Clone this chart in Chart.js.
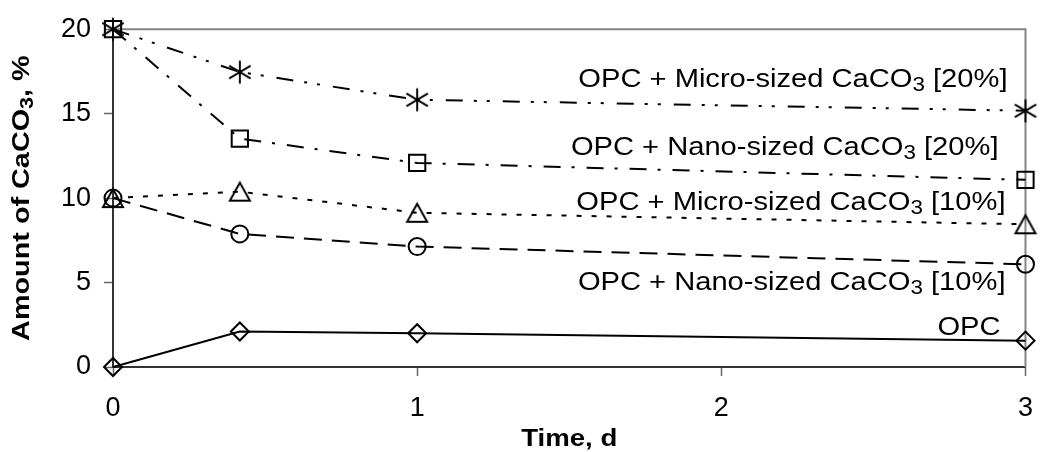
<!DOCTYPE html>
<html><head><meta charset="utf-8">
<script src="https://cdn.jsdelivr.net/npm/chart.js@4/dist/chart.umd.min.js"></script>
<style>html,body{margin:0;padding:0;background:#fff;}</style>
</head><body>
<canvas id="c" width="1049" height="452"></canvas>
<script>
// ---- data ----
const days = [0, 0.417, 1, 3];
const opc = [0, 2.1, 2.0, 1.56];
const nano10 = [10, 7.88, 7.13, 6.08];
const micro10 = [10, 10.38, 9.13, 8.45];
const nano20 = [20, 13.52, 12.08, 11.08];
const micro20 = [20, 17.46, 15.82, 15.17];
const xTickValues = [0, 1, 2, 3];
const yTickValues = [0, 5, 10, 15, 20];
const seriesLabels = [
  ['OPC + Micro-sized CaCO', '3', ' [20%]'],
  ['OPC + Nano-sized CaCO', '3', ' [20%]'],
  ['OPC + Micro-sized CaCO', '3', ' [10%]'],
  ['OPC + Nano-sized CaCO', '3', ' [10%]'],
  ['OPC', '', '']
];
const xTitle = 'Time, d';
const yTitle = ['Amount of CaCO', '3', ', %'];

// ---- styles / positions ----
const FONT = '"Liberation Sans", Arial, sans-serif';
const labelPlacement = [ // right offset from plot right (px), baseline in y units
  {dx: 18, y: 16.6},
  {dx: 27, y: 12.55},
  {dx: 20, y: 9.31},
  {dx: 20, y: 4.57},
  {dx: 25, y: 1.91}
];

function makeAsterisk() {
  const c = document.createElement('canvas'); c.width = 30; c.height = 30;
  const g = c.getContext('2d'); g.strokeStyle = '#000'; g.lineWidth = 1.9; g.translate(15, 15);
  const a = 31 * Math.PI / 180, L = 12.5;
  g.beginPath();
  g.moveTo(0, -11.5); g.lineTo(0, 11.5);
  g.moveTo(-L * Math.cos(a), -L * Math.sin(a)); g.lineTo(L * Math.cos(a), L * Math.sin(a));
  g.moveTo(-L * Math.cos(a), L * Math.sin(a)); g.lineTo(L * Math.cos(a), -L * Math.sin(a));
  g.stroke();
  return c;
}
function makeTriangle() {
  const c = document.createElement('canvas'); c.width = 26; c.height = 24;
  const g = c.getContext('2d'); g.strokeStyle = '#000'; g.lineWidth = 2;
  g.beginPath(); g.moveTo(13, 3); g.lineTo(3, 21); g.lineTo(23, 21); g.closePath(); g.stroke();
  return c;
}

function pts(arr) { return days.map((d, i) => ({x: d, y: arr[i]})); }
const common = {showLine: true, borderColor: '#000', borderWidth: 2, backgroundColor: 'rgba(0,0,0,0)',
  pointBorderColor: '#000', pointBackgroundColor: 'rgba(0,0,0,0)', pointBorderWidth: 2, clip: false, tension: 0};

const datasets = [
  Object.assign({}, common, {label: 'OPC + Micro-sized CaCO3 [20%]', data: pts(micro20), borderDash: [17, 11, 3, 10, 3, 13], pointStyle: makeAsterisk(), pointRadius: 12}),
  Object.assign({}, common, {label: 'OPC + Nano-sized CaCO3 [20%]', data: pts(nano20), borderDash: [17, 11, 3, 12], pointStyle: 'rect', pointRadius: 11.5}),
  Object.assign({}, common, {label: 'OPC + Micro-sized CaCO3 [10%]', data: pts(micro10), borderDash: [5, 10], pointStyle: makeTriangle(), pointRadius: 11}),
  Object.assign({}, common, {label: 'OPC + Nano-sized CaCO3 [10%]', data: pts(nano10), borderDash: [18, 10], pointStyle: 'circle', pointRadius: 8.5}),
  Object.assign({}, common, {label: 'OPC', data: pts(opc), borderDash: [], pointStyle: 'rectRot', pointRadius: 9})
];

function measureRich(ctx, parts, size, bold) {
  const w = bold ? 'bold ' : '';
  const mainF = w + size + 'px ' + FONT, subF = w + Math.round(size * 0.75) + 'px ' + FONT;
  ctx.font = mainF; const w1 = ctx.measureText(parts[0]).width, w3 = ctx.measureText(parts[2]).width;
  ctx.font = subF; const w2 = parts[1] ? ctx.measureText(parts[1]).width : 0;
  return {w1, w2, w3, mainF, subF, total: w1 + w2 + w3};
}
function renderRich(ctx, parts, size, bold, startX) {
  const m = measureRich(ctx, parts, size, bold);
  ctx.textBaseline = 'alphabetic'; ctx.textAlign = 'left';
  let x = startX;
  ctx.font = m.mainF; ctx.fillText(parts[0], x, 0); x += m.w1;
  if (parts[1]) { ctx.font = m.subF; ctx.fillText(parts[1], x, size * 0.16); x += m.w2; }
  ctx.font = m.mainF; ctx.fillText(parts[2], x, 0);
  return m;
}

const annotations = {
  id: 'annotations',
  beforeDatasetsDraw(chart) {
    const {ctx, chartArea: a} = chart;
    ctx.save(); ctx.strokeStyle = '#858585'; ctx.lineWidth = 2;
    ctx.beginPath(); ctx.moveTo(a.left, a.top); ctx.lineTo(a.right, a.top); ctx.lineTo(a.right, a.bottom); ctx.stroke();
    ctx.restore();
  },
  afterDraw(chart) {
    const {ctx, chartArea: a, scales} = chart;
    ctx.save(); ctx.fillStyle = '#000';
    const sx = 1.12;
    seriesLabels.forEach((lab, i) => {
      const p = labelPlacement[i];
      const m = measureRich(ctx, lab, 26, false);
      ctx.save();
      ctx.translate(a.right - p.dx, scales.y.getPixelForValue(p.y));
      ctx.scale(sx, 1);
      renderRich(ctx, lab, 26, false, -m.total);
      ctx.restore();
    });
    // y title
    const my = measureRich(ctx, yTitle, 24, true);
    ctx.save();
    ctx.translate(29, (a.top + a.bottom) / 2);
    ctx.rotate(-Math.PI / 2);
    ctx.scale(1.2, 1);
    renderRich(ctx, yTitle, 24, true, -my.total / 2);
    ctx.restore();
    // x title
    ctx.save();
    ctx.font = 'bold 24px ' + FONT;
    const wx = ctx.measureText(xTitle).width;
    ctx.translate((a.left + a.right) / 2, 446);
    ctx.scale(1.15, 1);
    ctx.textBaseline = 'alphabetic';
    ctx.fillText(xTitle, -wx / 2, 0);
    ctx.restore();
    ctx.restore();
  }
};

new Chart(document.getElementById('c'), {
  type: 'scatter',
  data: {datasets},
  options: {
    responsive: false, animation: false, devicePixelRatio: 1,
    layout: {padding: {left: 0, right: 9, top: 21, bottom: 0}},
    plugins: {legend: {display: false}, tooltip: {enabled: false}},
    scales: {
      x: {
        type: 'linear', min: 0, max: 3,
        afterFit: s => { s.height = 85; },
        afterBuildTicks: s => { s.ticks = xTickValues.map(v => ({value: v})); },
        grid: {display: true, drawOnChartArea: false, drawTicks: true, tickLength: 9, tickColor: '#666', tickWidth: 1.5},
        border: {display: true, color: '#333', width: 2},
        ticks: {color: '#000', font: {family: FONT, size: 27}, padding: 16, maxRotation: 0, callback: v => String(v)}
      },
      y: {
        type: 'linear', min: 0, max: 20,
        afterFit: s => { s.width = 113; },
        afterBuildTicks: s => { s.ticks = yTickValues.map(v => ({value: v})); },
        grid: {display: true, drawOnChartArea: false, drawTicks: true, tickLength: 9, tickColor: '#666', tickWidth: 1.5},
        border: {display: true, color: '#333', width: 2},
        ticks: {color: '#000', font: {family: FONT, size: 27}, padding: 13, callback: v => String(v)}
      }
    }
  },
  plugins: [annotations]
});
</script>
</body></html>
